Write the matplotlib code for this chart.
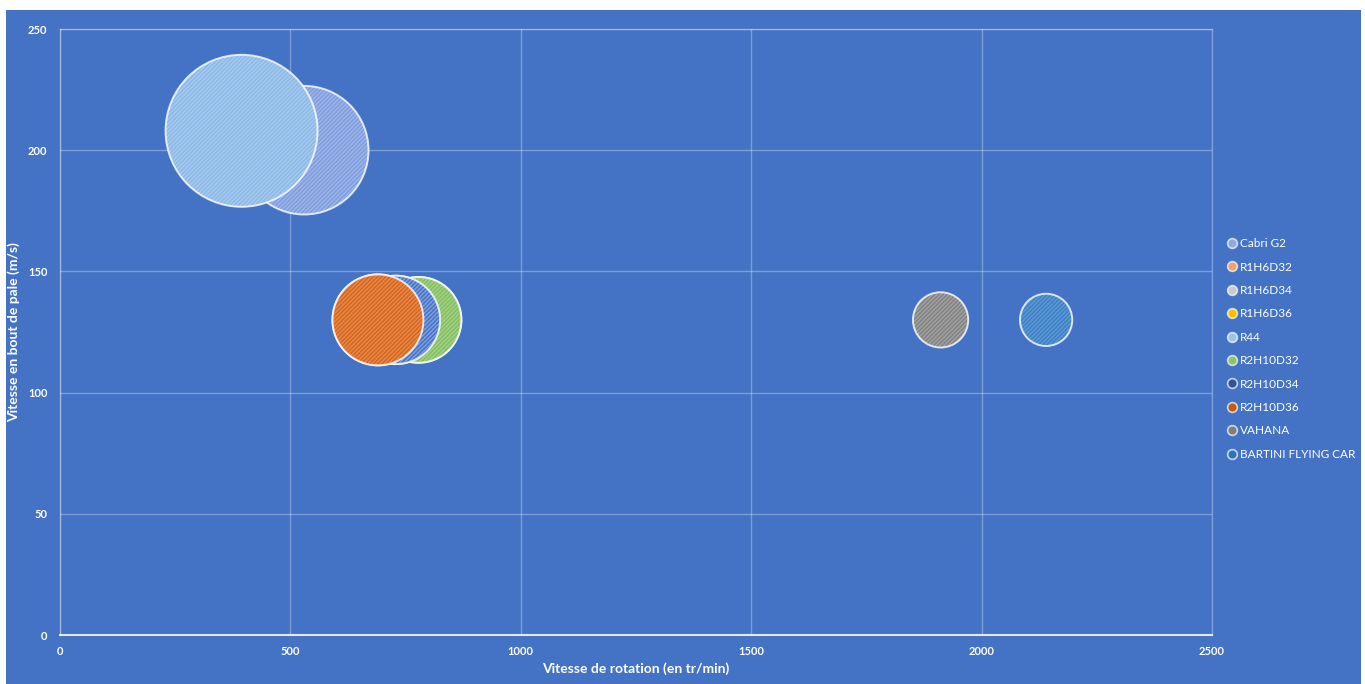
import numpy as np
import matplotlib.pyplot as plt
from matplotlib.patches import Rectangle
from matplotlib.lines import Line2D

# series, drawn in this order (later ones on top)
names = ['Cabri G2', 'R1H6D32', 'R1H6D34', 'R1H6D36', 'R44',
         'R2H10D32', 'R2H10D34', 'R2H10D36', 'VAHANA', 'BARTINI FLYING CAR']
rpm = [530, 778, 729, 690, 394, 778, 729, 690, 1911, 2140]
tip_speed = [200, 130, 130, 130, 208, 130, 130, 130, 130, 130]
diameter = [7.2, 3.2, 3.4, 3.6, 10.06, 3.2, 3.4, 3.6, 1.33, 1.19]

fill_colors = ['#7e9cde', '#f4b183', '#c9c9c9', '#ffd966', '#8bb8e6',
               '#a4cf88', '#4171c6', '#ee8644', '#a2a2a2', '#5b9bd5']
stripe_colors = ['#9cb5e8', '#e0894a', '#a5a5a5', '#ffc000', '#a6c9ee',
                 '#84c060', '#7f9fdc', '#cf6a26', '#838383', '#417fc4']
legend_colors = ['#8faadc', '#f4a06a', '#c9c9c9', '#ffc000', '#9dc3e6',
                 '#8fc46a', '#2f5597', '#c55a11', '#7f7f7f', '#2e75b6']

blue = '#4472c4'

plt.rcParams['font.family'] = ['Lato', 'DejaVu Sans']

fig = plt.figure(figsize=(13.65, 6.84), dpi=100, facecolor='white')
fig.patches.append(Rectangle((6 / 1365, 0), 1355 / 1365, 674 / 684,
                             transform=fig.transFigure, facecolor=blue,
                             edgecolor='none', zorder=-10))
ax = fig.add_axes([60 / 1365, 49 / 684, 1152 / 1365, 606 / 684])
ax.set_facecolor(blue)

# bubble area proportional to diameter, biggest bubble ~76 px radius
max_r_pt = 76 * 0.72
sizes = np.array(diameter) / max(diameter) * (2 * max_r_pt) ** 2

plt.rcParams['hatch.linewidth'] = 1.1
for i in range(len(names)):
    z = 3 + i * 0.01
    # plain fill, then stripes, then white outline
    ax.scatter(rpm[i], tip_speed[i], s=sizes[i], facecolor=fill_colors[i],
               edgecolor='none', zorder=z)
    ax.scatter(rpm[i], tip_speed[i], s=sizes[i], facecolor='none',
               edgecolor=stripe_colors[i], linewidth=0, hatch='////////',
               zorder=z + 0.001)
    ax.scatter(rpm[i], tip_speed[i], s=sizes[i], facecolor='none',
               edgecolor=(1, 1, 1, 0.8), linewidth=1.4, zorder=z + 0.002)

ax.set_xlim(0, 2500)
ax.set_ylim(0, 250)
ax.set_xticks([0, 500, 1000, 1500, 2000, 2500])
ax.set_yticks([0, 50, 100, 150, 200, 250])
ax.grid(True, color='white', alpha=0.3, linewidth=1)
ax.set_axisbelow(True)
for side in ['top', 'left', 'right']:
    ax.spines[side].set_color((1, 1, 1, 0.3))
    ax.spines[side].set_linewidth(1)
ax.spines['bottom'].set_color((1, 1, 1, 0.85))
ax.spines['bottom'].set_linewidth(1.5)
ax.tick_params(length=0, colors='white', labelsize=8)
ax.tick_params(axis='x', pad=8)
ax.tick_params(axis='y', pad=9)
for lab in ax.get_xticklabels() + ax.get_yticklabels():
    lab.set_fontweight('bold')

ax.set_xlabel('Vitesse de rotation (en tr/min)', color='white',
              fontsize=10, fontweight='bold', labelpad=4)
ax.set_ylabel('Vitesse en bout de pale (m/s)', color='white',
              fontsize=10, fontweight='bold', labelpad=6)

handles = [Line2D([], [], linestyle='none', marker='o', markersize=7,
                  markerfacecolor=c, markeredgecolor=(1, 1, 1, 0.7),
                  markeredgewidth=1.2) for c in legend_colors]
leg = fig.legend(handles, names, loc='center left',
                 bbox_to_anchor=(1222 / 1365, 1 - 349 / 684), frameon=False,
                 fontsize=8.5, handlelength=0.7, handletextpad=0.3,
                 labelspacing=1.05, borderpad=0)
for t in leg.get_texts():
    t.set_color('white')

fig.savefig('out.png', dpi=100, facecolor='white')
